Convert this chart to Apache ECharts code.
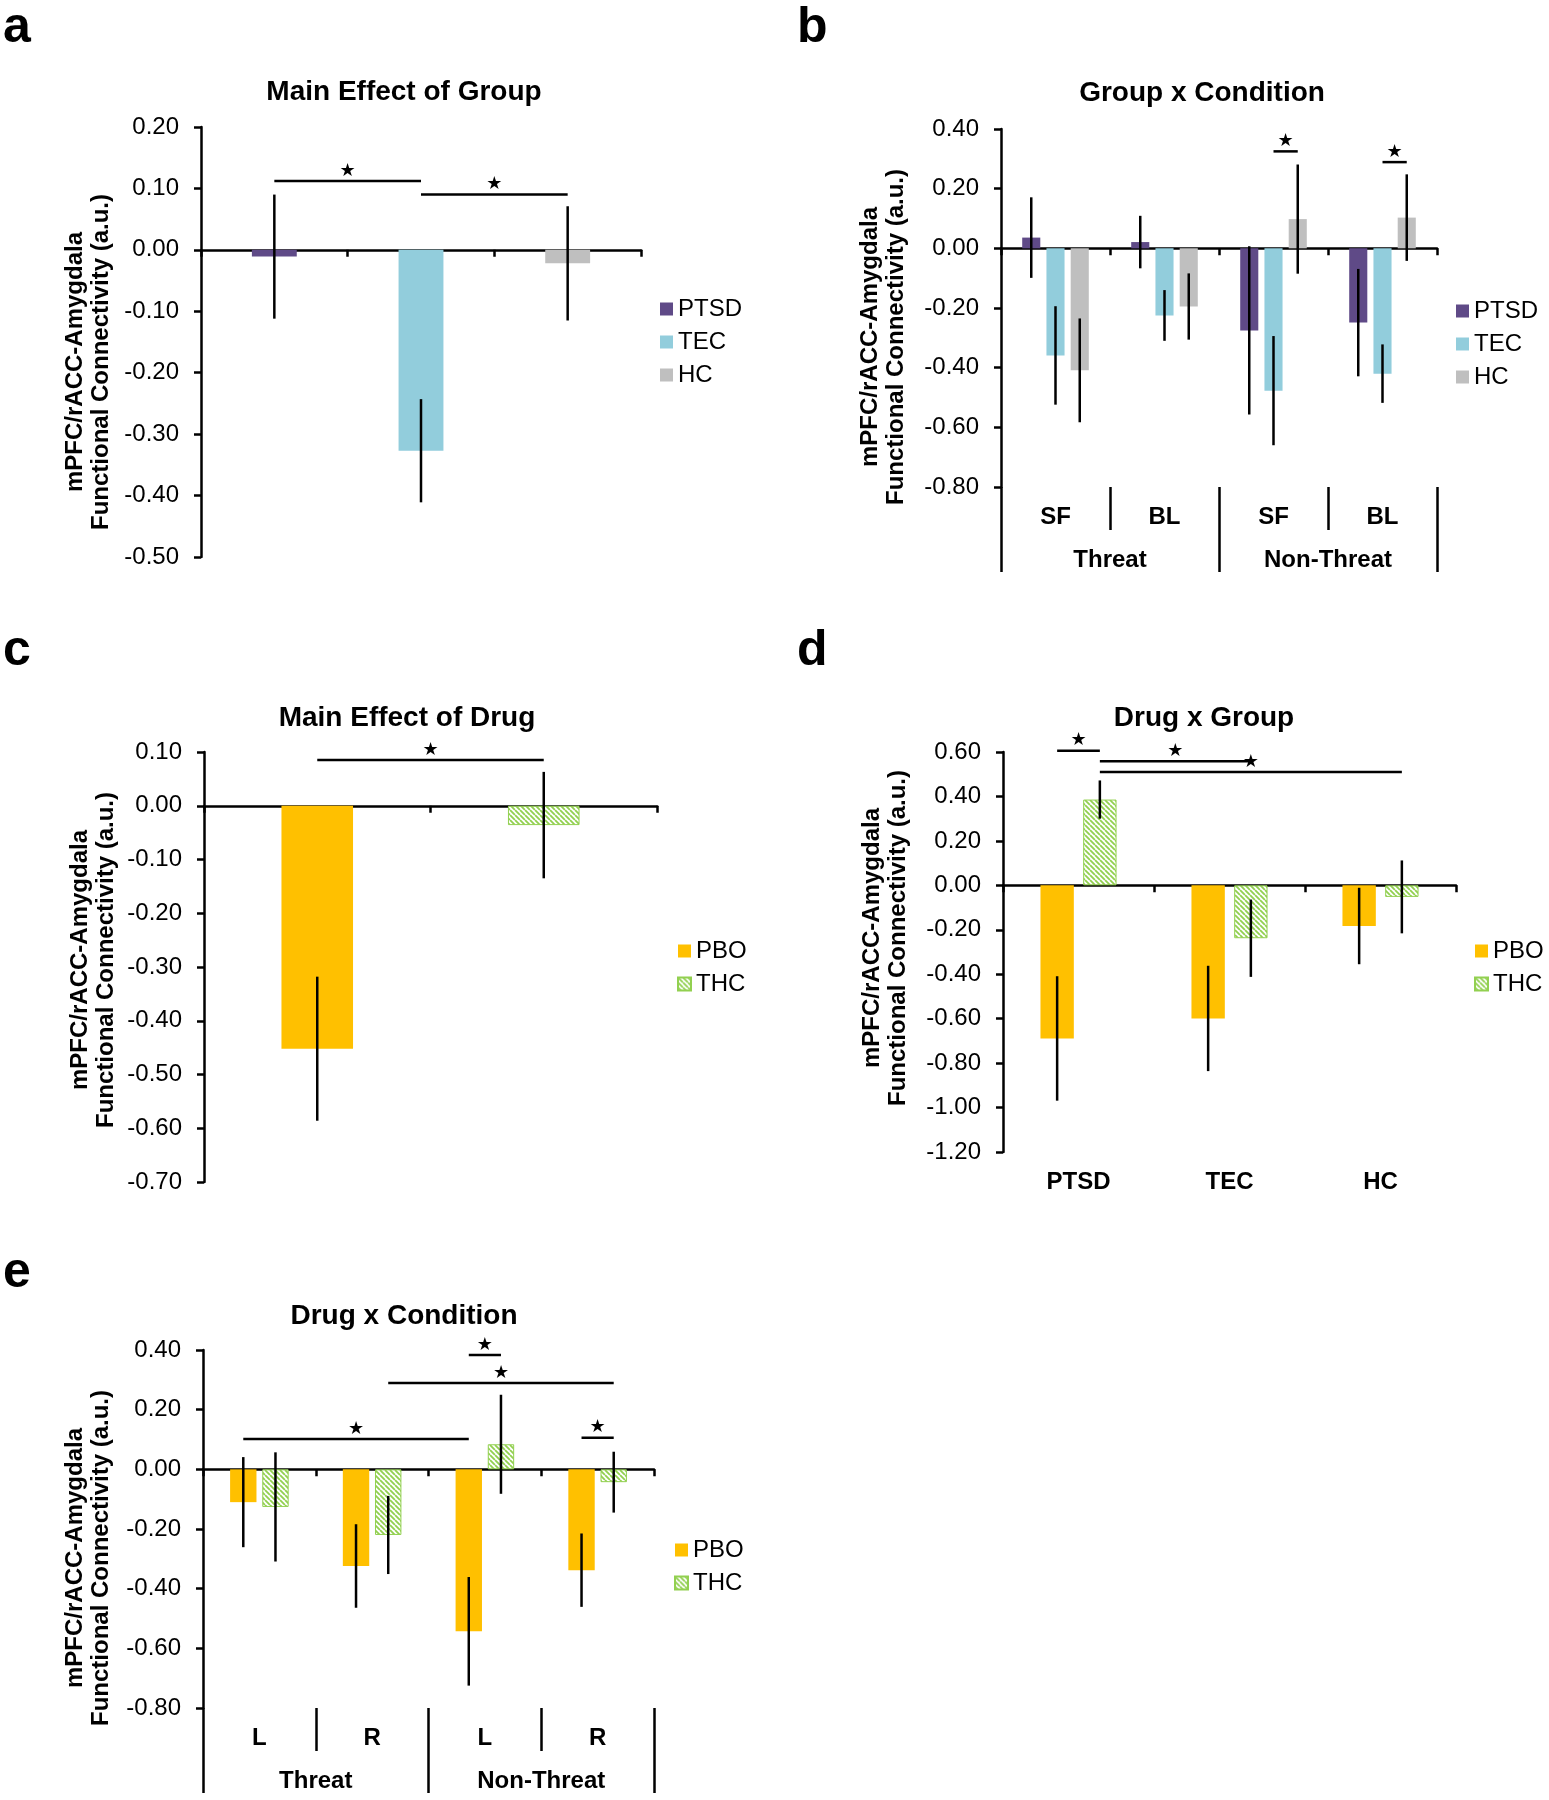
<!DOCTYPE html>
<html>
<head>
<meta charset="utf-8">
<script src="https://cdn.jsdelivr.net/npm/echarts@6.0.0/dist/echarts.min.js"></script>
<style>
html,body{margin:0;padding:0;background:#fff;}
#chart{width:1549px;height:1800px;}
</style>
</head>
<body>
<div id="chart"></div>
<script>
// ---------------- DATA ----------------
// Panel a: Main Effect of Group
const groupCats = ['PTSD', 'TEC', 'HC'];
const groupMeans = [-0.011, -0.327, -0.022];
const groupErrs = [0.101, 0.084, 0.093];
const sigA = [[0, 0, 1, 0, 0.112], [1, 0, 2, 0, 0.090]];

// Panel b: Group x Condition
const condCatsB = ['Threat SF', 'Threat BL', 'Non-Threat SF', 'Non-Threat BL'];
const subLabelsB = ['SF', 'BL', 'SF', 'BL'];
const condGroups = ['Threat', 'Non-Threat'];
const ptsdB = [0.036, 0.021, -0.275, -0.249];
const tecB = [-0.359, -0.225, -0.477, -0.420];
const hcB = [-0.409, -0.195, 0.098, 0.103];
const ptsdErrB = [0.135, 0.088, 0.282, 0.180];
const tecErrB = [0.165, 0.085, 0.183, 0.098];
const hcErrB = [0.174, 0.111, 0.183, 0.145];
const sigB = [[2, 1, 2, 2, 0.325], [3, 1, 3, 2, 0.289]];

// Panel c: Main Effect of Drug
const drugCats = ['PBO', 'THC'];
const drugMeans = [-0.452, -0.036];
const drugErrs = [0.134, 0.099];
const sigC = [[0, 0, 1, 0, 0.085]];

// Panel d: Drug x Group
const pboD = [-0.689, -0.599, -0.183];
const thcD = [0.386, -0.238, -0.052];
const pboErrD = [0.280, 0.237, 0.172];
const thcErrD = [0.086, 0.174, 0.164];
const sigD = [[0, 0, 0, 1, 0.606], [0, 1, 1, 1, 0.558], [0, 1, 2, 1, 0.510]];

// Panel e: Drug x Condition
const condCatsE = ['Threat L', 'Threat R', 'Non-Threat L', 'Non-Threat R'];
const subLabelsE = ['L', 'R', 'L', 'R'];
const pboE = [-0.110, -0.324, -0.543, -0.338];
const thcE = [-0.126, -0.220, 0.084, -0.043];
const pboErrE = [0.151, 0.140, 0.182, 0.123];
const thcErrE = [0.183, 0.131, 0.166, 0.102];
const sigE = [[2, 0, 2, 1, 0.383], [1, 1, 3, 1, 0.289], [0, 0, 2, 0, 0.102], [3, 0, 3, 1, 0.106]];

const yNameText = 'mPFC/rACC-Amygdala\nFunctional Connectivity (a.u.)';

// ---------------- STYLE ----------------
const FONT = 'Arial, "Liberation Sans", Helvetica, sans-serif';
const COL_PTSD = '#5F4A87';
const COL_TEC = '#92CDDC';
const COL_HC = '#BFBFBF';
const COL_PBO = '#FFC000';
const COL_THC = '#92D050';
const LW = 2.5;

function makeHatch() {
  const s = 5;
  const c = document.createElement('canvas');
  c.width = s; c.height = s;
  const ctx = c.getContext('2d');
  ctx.fillStyle = '#ffffff';
  ctx.fillRect(0, 0, s, s);
  ctx.strokeStyle = COL_THC;
  ctx.lineWidth = 1.8;
  ctx.beginPath();
  [-s, 0, s].forEach(k => { ctx.moveTo(k, 0); ctx.lineTo(k + s, s); });
  ctx.stroke();
  return c;
}
const hatch = { image: makeHatch(), repeat: 'repeat' };

const fmt = v => (Math.abs(v) < 1e-9 ? 0 : v).toFixed(2);

const grids = [
  { left: 201, top: 127, width: 440, height: 430 },
  { left: 1001, top: 129, width: 436, height: 358 },
  { left: 204, top: 752, width: 453, height: 430 },
  { left: 1003, top: 752, width: 453, height: 400 },
  { left: 203, top: 1350, width: 451, height: 358 }
];

function yAxisCfg(g, min, max, interval) {
  return {
    type: 'value', gridIndex: g, min, max, interval,
    axisLine: { show: true, lineStyle: { color: '#000', width: LW } },
    axisTick: { show: true, length: 7, lineStyle: { color: '#000', width: LW } },
    splitLine: { show: false },
    axisLabel: { fontSize: 24, color: '#000', fontFamily: FONT, margin: 22, formatter: fmt }
  };
}
function mainX(g, cats) {
  return {
    type: 'category', gridIndex: g, data: cats, position: 'bottom',
    axisLine: { show: true, onZero: true, lineStyle: { color: '#000', width: LW } },
    axisTick: { show: true, length: 7, lineStyle: { color: '#000', width: LW } },
    axisLabel: { show: false }, splitLine: { show: false }
  };
}
function labelX(g, cats, tickLen, margin) {
  return {
    type: 'category', gridIndex: g, data: cats, position: 'bottom',
    axisLine: { show: false, onZero: false },
    axisTick: { show: tickLen > 0, length: tickLen, lineStyle: { color: '#000', width: LW } },
    axisLabel: { show: true, interval: 0, fontSize: 24, fontWeight: 'bold', color: '#000', fontFamily: FONT, margin },
    splitLine: { show: false }
  };
}

const xAxes = [
  mainX(0, groupCats),               // 0 a
  mainX(1, condCatsB),               // 1 b
  labelX(1, subLabelsB, 43, 18),     // 2 b sub
  labelX(1, condGroups, 85, 61),     // 3 b groups
  mainX(2, drugCats),                // 4 c
  mainX(3, groupCats),               // 5 d
  labelX(3, groupCats, 0, 18),       // 6 d labels
  mainX(4, condCatsE),               // 7 e
  labelX(4, subLabelsE, 43, 18),     // 8 e sub
  labelX(4, condGroups, 85, 61)      // 9 e groups
];
const yAxes = [
  yAxisCfg(0, -0.5, 0.2, 0.1),
  yAxisCfg(1, -0.8, 0.4, 0.2),
  yAxisCfg(2, -0.7, 0.1, 0.1),
  yAxisCfg(3, -1.2, 0.6, 0.2),
  yAxisCfg(4, -0.8, 0.4, 0.2)
];

// bar centre for slot inside a category
function slotX(api, cat, slot, L) {
  const c = api.coord([cat, 0])[0];
  if (L.n === 1) return c;
  const bw = api.size([1, 0])[0];
  const w = bw * L.bar, g = w * L.gap;
  const total = L.n * w + (L.n - 1) * g;
  return c - total / 2 + slot * (w + g) + w / 2;
}
function errSeries(xi, yi, data, L) {
  return {
    type: 'custom', xAxisIndex: xi, yAxisIndex: yi, data, z: 5, silent: true,
    renderItem: function (params, api) {
      const cat = api.value(0), m = api.value(1), e = api.value(2), s = api.value(3);
      const x = slotX(api, cat, s, L);
      const y1 = api.coord([cat, m + e])[1], y2 = api.coord([cat, m - e])[1];
      return { type: 'line', shape: { x1: x, y1: y1, x2: x, y2: y2 }, style: { stroke: '#000', lineWidth: LW } };
    }
  };
}
function sigSeries(xi, yi, data, L) {
  return {
    type: 'custom', xAxisIndex: xi, yAxisIndex: yi, data, z: 6, silent: true, clip: false,
    renderItem: function (params, api) {
      const c1 = api.value(0), s1 = api.value(1), c2 = api.value(2), s2 = api.value(3), v = api.value(4);
      const x1 = slotX(api, c1, s1, L), x2 = slotX(api, c2, s2, L);
      const y = api.coord([c1, v])[1];
      return {
        type: 'group', children: [
          { type: 'line', shape: { x1: x1, y1: y, x2: x2, y2: y }, style: { stroke: '#000', lineWidth: LW } },
          { type: 'text', x: (x1 + x2) / 2, y: y - 10, style: { text: '\u2605', fill: '#000', font: '18px "DejaVu Sans", sans-serif', align: 'center', verticalAlign: 'middle' } }
        ]
      };
    }
  };
}
function only(arr, i) { return arr.map((v, j) => (j === i ? v : '-')); }

const LA = { n: 1 }, LB = { n: 3, bar: 0.166, gap: 0.34 }, LC = { n: 1 }, LD = { n: 2, bar: 0.221, gap: 0.28 }, LE = { n: 2, bar: 0.234, gap: 0.22 };
const groupColors = [COL_PTSD, COL_TEC, COL_HC];

const series = [];
// panel a
groupCats.forEach((name, i) => series.push({
  type: 'bar', name, xAxisIndex: 0, yAxisIndex: 0, barWidth: '30.6%', barGap: '-100%',
  data: only(groupMeans, i), itemStyle: { color: groupColors[i] }, silent: true
}));
series.push(errSeries(0, 0, groupMeans.map((m, i) => [i, m, groupErrs[i], 0]), LA));
series.push(sigSeries(0, 0, sigA, LA));
// panel b
const meansB = [ptsdB, tecB, hcB], errsB = [ptsdErrB, tecErrB, hcErrB];
groupCats.forEach((name, s) => series.push({
  type: 'bar', name, xAxisIndex: 1, yAxisIndex: 1, barWidth: '16.6%', barGap: '34%',
  data: meansB[s], itemStyle: { color: groupColors[s] }, silent: true
}));
const errDataB = [];
meansB.forEach((arr, s) => arr.forEach((m, c) => errDataB.push([c, m, errsB[s][c], s])));
series.push(errSeries(1, 1, errDataB, LB));
series.push(sigSeries(1, 1, sigB, LB));
// panel c
series.push({ type: 'bar', name: 'PBO', xAxisIndex: 4, yAxisIndex: 2, barWidth: '31.6%', barGap: '-100%', data: only(drugMeans, 0), itemStyle: { color: COL_PBO }, silent: true });
series.push({ type: 'bar', name: 'THC', xAxisIndex: 4, yAxisIndex: 2, barWidth: '31.6%', barGap: '-100%', data: only(drugMeans, 1), itemStyle: { color: hatch, borderColor: COL_THC, borderWidth: 1 }, silent: true });
series.push(errSeries(4, 2, drugMeans.map((m, i) => [i, m, drugErrs[i], 0]), LC));
series.push(sigSeries(4, 2, sigC, LC));
// panel d
series.push({ type: 'bar', name: 'PBO', xAxisIndex: 5, yAxisIndex: 3, barWidth: '22.1%', barGap: '28%', data: pboD, itemStyle: { color: COL_PBO }, silent: true });
series.push({ type: 'bar', name: 'THC', xAxisIndex: 5, yAxisIndex: 3, barWidth: '22.1%', barGap: '28%', data: thcD, itemStyle: { color: hatch, borderColor: COL_THC, borderWidth: 1 }, silent: true });
const errDataD = [];
[[pboD, pboErrD], [thcD, thcErrD]].forEach((p, s) => p[0].forEach((m, c) => errDataD.push([c, m, p[1][c], s])));
series.push(errSeries(5, 3, errDataD, LD));
series.push(sigSeries(5, 3, sigD, LD));
// panel e
series.push({ type: 'bar', name: 'PBO', xAxisIndex: 7, yAxisIndex: 4, barWidth: '23.4%', barGap: '22%', data: pboE, itemStyle: { color: COL_PBO }, silent: true });
series.push({ type: 'bar', name: 'THC', xAxisIndex: 7, yAxisIndex: 4, barWidth: '23.4%', barGap: '22%', data: thcE, itemStyle: { color: hatch, borderColor: COL_THC, borderWidth: 1 }, silent: true });
const errDataE = [];
[[pboE, pboErrE], [thcE, thcErrE]].forEach((p, s) => p[0].forEach((m, c) => errDataE.push([c, m, p[1][c], s])));
series.push(errSeries(7, 4, errDataE, LE));
series.push(sigSeries(7, 4, sigE, LE));

function legendCfg(names, left, top) {
  return {
    data: names, left, top, orient: 'vertical', icon: 'rect', itemWidth: 13, itemHeight: 13, itemGap: 9,
    padding: 0, selectedMode: false,
    textStyle: { fontSize: 24, color: '#000', fontFamily: FONT, lineHeight: 24 }
  };
}

function txt(x, y, text, font, rot, extra) {
  return Object.assign({
    type: 'text', x, y, rotation: rot || 0, silent: true,
    style: { text, font, fill: '#000', align: 'center', verticalAlign: 'middle', lineHeight: 26 }
  }, extra || {});
}
const TITLE_FONT = 'bold 28px ' + FONT;
const NAME_FONT = 'bold 24px ' + FONT;
const PANEL_FONT = 'bold 50px ' + FONT;
function panelLabel(x, y, t) {
  return { type: 'text', x, y, silent: true, style: { text: t, font: PANEL_FONT, fill: '#000', align: 'left', verticalAlign: 'middle' } };
}

const graphics = [
  panelLabel(3, 28, 'a'), panelLabel(797, 28, 'b'), panelLabel(3, 651, 'c'), panelLabel(797, 651, 'd'), panelLabel(3, 1273, 'e'),
  txt(404, 92, 'Main Effect of Group', TITLE_FONT),
  txt(1202, 93, 'Group x Condition', TITLE_FONT),
  txt(407, 718, 'Main Effect of Drug', TITLE_FONT),
  txt(1204, 718, 'Drug x Group', TITLE_FONT),
  txt(404, 1316, 'Drug x Condition', TITLE_FONT),
  txt(88, 362, yNameText, NAME_FONT, Math.PI / 2),
  txt(883, 337, yNameText, NAME_FONT, Math.PI / 2),
  txt(93, 960, yNameText, NAME_FONT, Math.PI / 2),
  txt(885, 938, yNameText, NAME_FONT, Math.PI / 2),
  txt(88, 1558, yNameText, NAME_FONT, Math.PI / 2)
];

const option = {
  backgroundColor: '#ffffff',
  animation: false,
  textStyle: { fontFamily: FONT },
  grid: grids.map(g => Object.assign({ containLabel: false, outerBoundsMode: 'none' }, g)),
  xAxis: xAxes,
  yAxis: yAxes,
  legend: [
    legendCfg(groupCats, 660, 297),
    legendCfg(groupCats, 1456, 299),
    legendCfg(drugCats, 677, 939),
    legendCfg(drugCats, 1474, 939),
    legendCfg(drugCats, 674, 1538)
  ],
  graphic: graphics,
  series
};

const chart = echarts.init(document.getElementById('chart'), null, { renderer: 'canvas' });
chart.setOption(option);
</script>
</body>
</html>
